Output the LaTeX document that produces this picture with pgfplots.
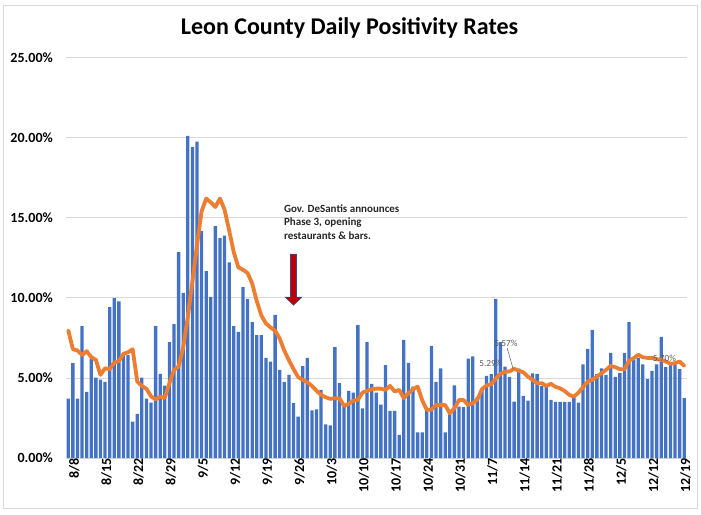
\documentclass[border=0pt]{standalone}
\usepackage{pgfplots}
\pgfplotsset{compat=1.18}
\usepackage{pgfplotstable}
\usepackage{fontspec}
\setmainfont{Carlito}
\definecolor{xlblue}{HTML}{4472C4}
\definecolor{xlorange}{HTML}{ED7D31}
\definecolor{xlgrid}{HTML}{D9D9D9}
\definecolor{xlred}{HTML}{C00000}
\definecolor{xlarrowline}{HTML}{2F528F}
\definecolor{lblgray}{HTML}{595959}
\pgfplotstableread{
d rate avg
0 3.71 7.96
1 5.92 6.79
2 3.71 6.71
3 8.23 6.42
4 4.13 6.67
5 6.17 6.29
6 5.02 6.13
7 4.90 5.19
8 4.75 5.60
9 9.42 5.54
10 9.98 5.96
11 9.77 6.04
12 6.42 6.50
13 6.42 6.60
14 2.27 6.79
15 2.75 4.77
16 5.02 4.50
17 3.71 4.32
18 3.46 3.85
19 8.23 3.65
20 5.25 3.83
21 4.52 3.75
22 7.23 4.67
23 8.35 5.50
24 12.85 5.71
25 10.31 6.90
26 20.10 8.80
27 19.40 11.00
28 19.75 13.30
29 14.17 15.40
30 11.67 16.20
31 10.06 15.96
32 14.48 15.67
33 13.73 16.20
34 13.88 15.50
35 12.21 14.20
36 8.23 12.85
37 7.88 11.90
38 10.67 11.75
39 9.94 11.55
40 8.48 10.90
41 7.67 9.80
42 7.67 8.90
43 6.25 8.40
44 6.02 8.15
45 8.94 7.95
46 5.50 7.45
47 4.73 6.70
48 5.19 6.10
49 3.42 5.55
50 2.58 5.05
51 5.73 4.88
52 6.25 4.72
53 2.98 4.50
54 3.04 4.20
55 4.25 3.94
56 2.10 3.79
57 2.04 3.69
58 6.92 3.73
59 4.67 3.73
60 3.21 3.25
61 4.19 3.38
62 4.08 3.58
63 8.29 3.63
64 3.10 4.08
65 7.23 4.20
66 4.63 4.29
67 4.08 4.33
68 3.33 4.33
69 5.79 4.25
70 2.94 4.50
71 2.94 4.15
72 1.44 4.25
73 7.38 3.73
74 5.94 4.04
75 4.46 4.29
76 1.60 4.46
77 1.60 3.60
78 2.92 3.00
79 7.00 3.02
80 4.75 3.31
81 5.60 3.30
82 1.60 3.30
83 2.72 2.79
84 4.54 3.10
85 3.20 3.62
86 3.17 3.62
87 6.21 3.31
88 6.35 3.42
89 3.80 3.65
90 4.30 4.30
91 5.12 4.53
92 5.23 4.60
93 9.94 4.95
94 7.23 5.25
95 5.71 5.38
96 5.06 5.40
97 3.52 5.57
98 5.58 5.45
99 3.88 5.35
100 3.58 5.08
101 5.29 4.88
102 5.25 4.67
103 4.48 4.67
104 4.46 4.50
105 3.63 4.63
106 3.50 4.44
107 3.50 4.35
108 3.50 4.18
109 3.50 3.94
110 3.73 3.83
111 3.46 4.08
112 5.85 4.42
113 6.81 4.77
114 8.00 4.88
115 5.23 5.08
116 5.60 5.29
117 5.19 5.50
118 6.56 5.75
119 5.06 5.67
120 5.31 5.54
121 6.56 5.54
122 8.48 6.08
123 6.13 6.23
124 6.23 6.44
125 5.85 6.29
126 4.92 6.25
127 5.44 6.25
128 5.85 6.17
129 7.56 6.13
130 5.67 6.02
131 5.81 5.88
132 5.85 5.92
133 5.54 6.02
134 3.73 5.75
}\datatable
\begin{document}
\begin{tikzpicture}
\begin{axis}[
  at={(66pt,56pt)}, anchor=south west,
  scale only axis, width=620.5pt, height=400.5pt,
  xmin=-0.5, xmax=134.5, ymin=0, ymax=25,
  axis lines*=left,
  x axis line style={xlgrid, line width=0.8pt},
  y axis line style={draw=none},
  ytick={0,5,10,15,20,25},
  yticklabels={0.00\%,5.00\%,10.00\%,15.00\%,20.00\%,25.00\%},
  ymajorgrids, grid style={xlgrid, line width=0.8pt},
  xtick={0,7,...,133},
  xticklabels={8/8,8/15,8/22,8/29,9/5,9/12,9/19,9/26,10/3,10/10,10/17,10/24,10/31,11/7,11/14,11/21,11/28,12/5,12/12,12/19},
  major tick length=0pt,
  ticklabel style={font=\bfseries\fontsize{14}{14}\selectfont, text=black},
  yticklabel style={anchor=east, inner sep=0pt, xshift=-13pt},
  xticklabel style={rotate=90, anchor=east, inner sep=0pt, yshift=-6pt},
  /pgf/number format/assume math mode=true,
  clip=false,
]
\addplot[ybar, bar width=3.3pt, fill=xlblue, draw=none] table[x=d, y=rate] {\datatable};
\addplot[xlorange, line width=3.8pt, line join=round, line cap=round, no marks] table[x=d, y=avg] {\datatable};
% data labels
\node[font=\fontsize{9.3}{9.3}\selectfont, text=lblgray] at (axis cs:91.95,5.91) {5.29\%};
\node[font=\fontsize{9.3}{9.3}\selectfont, text=lblgray] at (axis cs:95.2,7.16) {5.57\%};
\draw[lblgray, line width=0.5pt] (axis cs:95.5,6.85) -- (axis cs:96.8,5.54);
\node[font=\fontsize{9.3}{9.3}\selectfont, text=lblgray] at (axis cs:129.7,6.22) {5.70\%};
% annotation
\node[anchor=north west, align=left, inner sep=0pt, font=\bfseries\fontsize{11}{13.6}\selectfont, text=black!85] at (axis cs:46.9,15.85) {Gov. DeSantis announces\\Phase 3, opening\\restaurants \& bars.};
\filldraw[fill=xlred, draw=xlarrowline, line width=0.6pt]
  ([xshift=-3pt]axis cs:49,12.72) -- ([xshift=3pt]axis cs:49,12.72)
  -- ([xshift=3pt]axis cs:49,10.04) -- ([xshift=8.3pt]axis cs:49,10.04)
  -- (axis cs:49,9.54) -- ([xshift=-8.3pt]axis cs:49,10.04)
  -- ([xshift=-3pt]axis cs:49,10.04) -- cycle;
\end{axis}
\node[anchor=base, font=\bfseries\fontsize{24}{24}\selectfont] at (349.5pt,479pt) {Leon County Daily Positivity Rates};
\draw[xlgrid, line width=0.8pt] (3pt,6pt) rectangle (697pt,509pt);
\pgfresetboundingbox
\useasboundingbox (0,0) rectangle (701pt,514pt);
\end{tikzpicture}
\end{document}
